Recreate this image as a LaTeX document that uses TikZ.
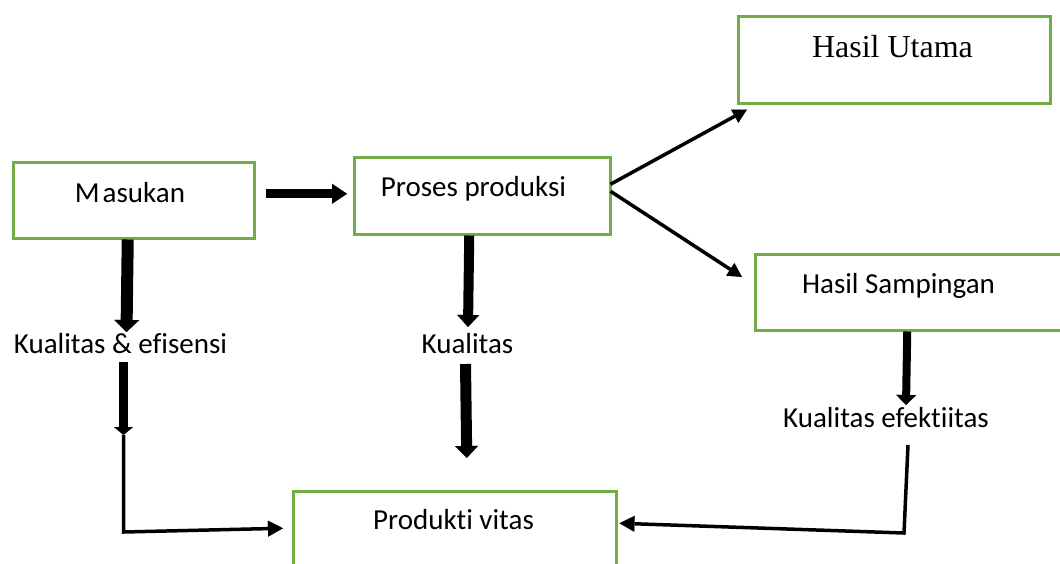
\documentclass[tikz,border=0pt]{standalone}
\usepackage{fontspec}
\setmainfont[Ligatures=NoCommon]{Carlito}
\newfontfamily\tnr{Liberation Serif}
\usetikzlibrary{arrows.meta}
\definecolor{boxgreen}{RGB}{112,173,71}
\tikzset{
  box/.style={draw=boxgreen, line width=2.5pt, inner sep=0pt, anchor=north west},
  lab/.style={inner sep=0pt, anchor=base, font=\fontsize{29}{34}\selectfont},
  serlab/.style={inner sep=0pt, anchor=base, font=\tnr\fontsize{32}{38}\selectfont},
  fat/.style n args={3}{line width=#1, -{Triangle[width=#2,length=#3,line width=0.01pt]}},
  thin/.style={line width=3.5pt, line join=miter, -{Triangle[width=16pt,length=15pt,line width=0.01pt]}},
  diag/.style={line width=3.5pt, -{Triangle[width=15pt,length=14pt,line width=0.01pt]}}
}
\begin{document}
\begin{tikzpicture}[x=1pt,y=-1pt]
\fill[white] (0,0) rectangle (1060,563);
\clip (0,0) rectangle (1060,563);
% boxes
\node[box, minimum width=241pt, minimum height=76pt] (masukan) at (12,161) {};
\node[box, minimum width=256pt, minimum height=77pt] (proses) at (353,156) {};
\node[box, minimum width=312pt, minimum height=87pt] (utama) at (737,15) {};
\node[box, minimum width=330pt, minimum height=76pt] (samping) at (754,253) {};
\node[box, minimum width=323pt, minimum height=90pt] (produk) at (292,490) {};
% box texts
\node[lab] (masukanT) at (130,202) {M\kern3pt asukan};
\node[lab] (prosesT) at (473.5,196) {Proses produksi};
\node[serlab] (utamaT) at (892.5,57) {Hasil Utama};
\node[lab] (sampingT) at (898.5,293) {Hasil Sampingan};
\node[lab] (produkT) at (453.5,529) {Produkti vitas};
% labels
\node[lab] (kef) at (120.5,353) {Kualitas \& efisensi};
\node[lab] (kual) at (467.5,353) {Kualitas};
\node[lab] (kefek) at (886,427) {Kualitas efektiitas};
% free corner points
\coordinate (c1) at (123.5,435);
\coordinate (c2) at (123.5,532);
\coordinate (c3) at (904,533);
% connectors
\draw[fat={9pt}{20pt}{15pt}] ([xshift=10pt,yshift=6.5pt]masukan.east) -- ([xshift=-6pt,yshift=2pt]proses.west);
\draw[fat={12pt}{25pt}{12pt}] ([xshift=-6pt]masukan.south) -- ([xshift=6pt,yshift=21pt]kef.base);
\draw[fat={9pt}{19pt}{8pt}] ([xshift=3pt,yshift=-9pt]kef.base) -- (c1);
\draw[thin] (c1) -- (c2) -- ([xshift=-9pt,yshift=8pt]produk.west);
\draw[fat={10pt}{22pt}{12pt}] ([xshift=-13pt]proses.south) -- ([xshift=0.5pt,yshift=26pt]kual.base);
\draw[fat={11pt}{23pt}{12pt}] ([xshift=-2pt,yshift=-11pt]kual.base) -- ([xshift=12pt,yshift=32pt]produk.north);
\draw[diag] ([xshift=-1pt,yshift=11.5pt]proses.east) -- ([xshift=10pt,yshift=-5pt]utama.south west);
\draw[diag] ([xshift=-1pt,yshift=4.5pt]proses.east) -- ([xshift=-12pt,yshift=-24pt]samping.north west);
\draw[fat={8pt}{20pt}{10pt}] ([xshift=-13pt]samping.south) -- ([xshift=20pt,yshift=22pt]kefek.base);
\draw[thin] ([xshift=22pt,yshift=-18pt]kefek.base) -- (c3) -- ([xshift=2pt,yshift=13pt]produk.east);
\end{tikzpicture}
\end{document}
